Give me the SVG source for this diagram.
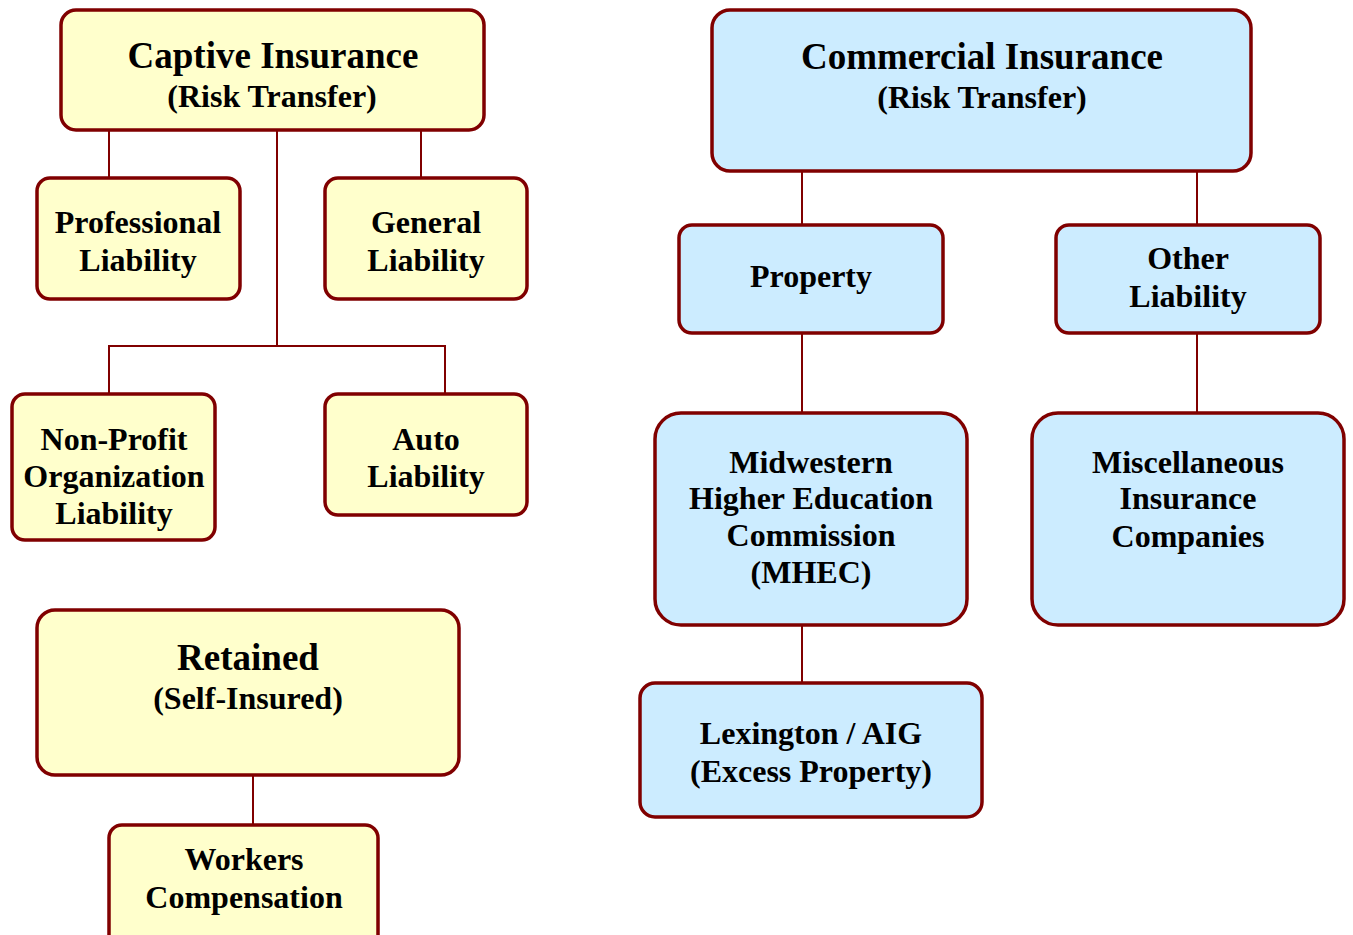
<svg xmlns="http://www.w3.org/2000/svg" width="1353" height="935" viewBox="0 0 1353 935">
<style>
.y{fill:#FFFFCC;stroke:#800000;stroke-width:3.5}
.b{fill:#CCECFF;stroke:#800000;stroke-width:3.5}
.c line,.c path{stroke:#800000;stroke-width:2;fill:none}
text{font-family:"Liberation Serif","Times New Roman",serif;font-weight:bold;fill:#000;text-anchor:middle;font-size:32px}
.h{font-size:37px}
</style>
<rect width="1353" height="935" fill="#fff"/>
<g class="c" id="connectors">
<line x1="109" y1="130" x2="109" y2="178"/>
<line x1="421" y1="130" x2="421" y2="178"/>
<path d="M277 130V346M109 394V346H445V394"/>
<line x1="253" y1="775" x2="253" y2="825"/>
<line x1="802" y1="171" x2="802" y2="225"/>
<line x1="1197" y1="171" x2="1197" y2="225"/>
<line x1="802" y1="333" x2="802" y2="413"/>
<line x1="1197" y1="333" x2="1197" y2="413"/>
<line x1="802" y1="625" x2="802" y2="683"/>
</g>
<g id="captive"><rect class="y" x="61" y="10" width="423" height="120" rx="15"/>
<text class="h" x="273" y="68">Captive Insurance</text><text x="272" y="107">(Risk Transfer)</text></g>
<g id="professional"><rect class="y" x="37" y="178" width="203" height="121" rx="13"/>
<text x="138" y="233">Professional</text><text x="138" y="271">Liability</text></g>
<g id="general"><rect class="y" x="325" y="178" width="202" height="121" rx="13"/>
<text x="426" y="233">General</text><text x="426" y="271">Liability</text></g>
<g id="nonprofit"><rect class="y" x="12" y="394" width="203" height="146" rx="13"/>
<text x="114" y="450">Non-Profit</text><text x="114" y="487">Organization</text><text x="114" y="524">Liability</text></g>
<g id="auto"><rect class="y" x="325" y="394" width="202" height="121" rx="13"/>
<text x="426" y="450">Auto</text><text x="426" y="487">Liability</text></g>
<g id="retained"><rect class="y" x="37" y="610" width="422" height="165" rx="18"/>
<text class="h" x="248" y="670">Retained</text><text x="248" y="709">(Self-Insured)</text></g>
<g id="workers"><rect class="y" x="109" y="825" width="269" height="125" rx="13"/>
<text x="244" y="870">Workers</text><text x="244" y="908">Compensation</text></g>
<g id="commercial"><rect class="b" x="712" y="10" width="539" height="161" rx="18"/>
<text class="h" x="982" y="69">Commercial Insurance</text><text x="982" y="108">(Risk Transfer)</text></g>
<g id="property"><rect class="b" x="679" y="225" width="264" height="108" rx="13"/>
<text x="811" y="287">Property</text></g>
<g id="other"><rect class="b" x="1056" y="225" width="264" height="108" rx="13"/>
<text x="1188" y="269">Other</text><text x="1188" y="307">Liability</text></g>
<g id="mhec"><rect class="b" x="655" y="413" width="312" height="212" rx="26"/>
<text x="811" y="473">Midwestern</text><text x="811" y="509">Higher Education</text><text x="811" y="546">Commission</text><text x="811" y="583">(MHEC)</text></g>
<g id="misc"><rect class="b" x="1032" y="413" width="312" height="212" rx="26"/>
<text x="1188" y="473">Miscellaneous</text><text x="1188" y="509">Insurance</text><text x="1188" y="547">Companies</text></g>
<g id="lexington"><rect class="b" x="640" y="683" width="342" height="134" rx="15"/>
<text x="811" y="744">Lexington / AIG</text><text x="811" y="782">(Excess Property)</text></g>
</svg>
